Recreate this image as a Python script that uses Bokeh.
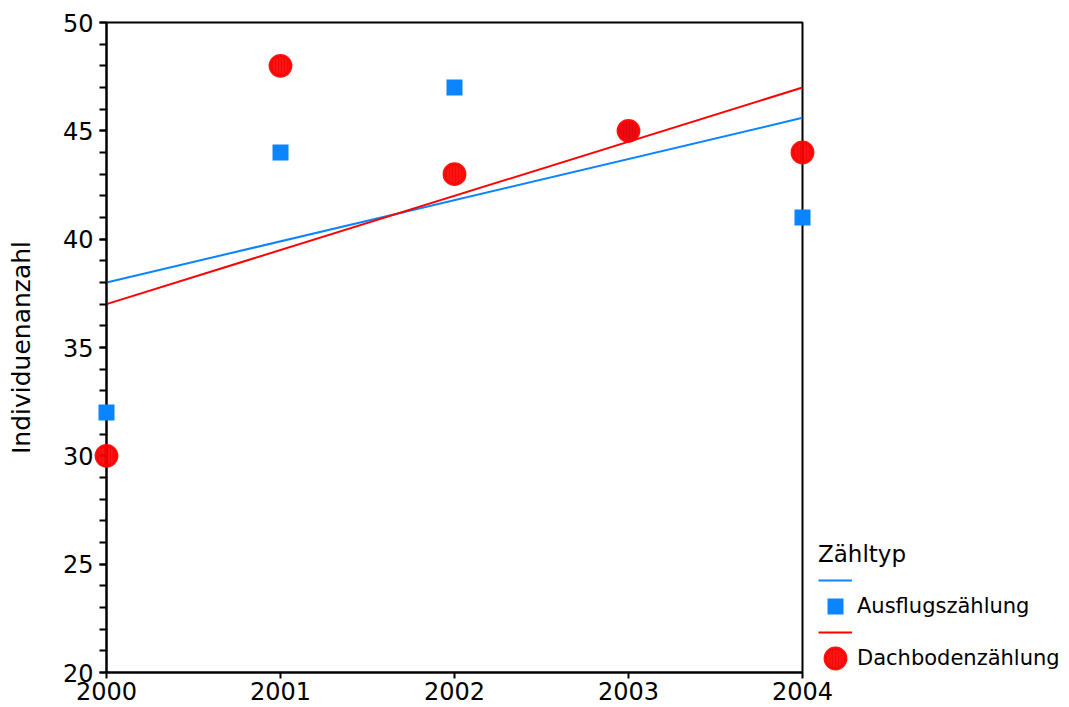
import numpy as np
from bokeh.plotting import figure
from bokeh.models import (Range1d, FixedTicker, SingleIntervalTicker, Legend, LegendItem,
                          ColumnDataSource)
from bokeh.embed import file_html
from bokeh.resources import INLINE

# ---- data ----
years = [2000, 2001, 2002, 2003, 2004]
ausflug = [32, 44, 47, 45, 41]
dachboden = [30, 48, 43, 45, 44]
x_ticks = [2000, 2001, 2002, 2003, 2004]
y_ticks = [20, 25, 30, 35, 40, 45, 50]
series_names = ["Ausflugszählung", "Dachbodenzählung"]
legend_title = "Zähltyp"
y_label = "Individuenanzahl"

BLUE = "#0A84FF"
RED = "#FF0000"
FONT = "DejaVu Sans"

p = figure(frame_width=696, frame_height=650,
           output_backend="svg", toolbar_location=None,
           x_range=Range1d(years[0], years[-1]), y_range=Range1d(y_ticks[0], y_ticks[-1]),
           min_border_left=106, min_border_top=22, min_border_right=265, min_border_bottom=35)
p.grid.visible = False
p.background_fill_color = "white"
p.border_fill_color = "white"
p.outline_line_color = "black"
p.outline_line_width = 2

# axes
xa = p.xaxis[0]
xa.ticker = FixedTicker(ticks=x_ticks)
xa.major_label_overrides = {t: str(t) for t in x_ticks}
xa.major_tick_in = 0
xa.major_tick_out = 6
xa.minor_tick_out = 0
xa.minor_tick_in = 0
xa.axis_line_width = 2
xa.major_tick_line_width = 2
xa.major_label_text_font = FONT
xa.major_label_text_font_size = "24px"
xa.major_label_text_color = "black"
xa.major_label_standoff = 3

ya = p.yaxis[0]
ya.ticker = SingleIntervalTicker(interval=5, num_minor_ticks=5)
ya.major_tick_in = 0
ya.major_tick_out = 7
ya.minor_tick_in = 0
ya.minor_tick_out = 7
ya.axis_line_width = 2
ya.major_tick_line_width = 2
ya.minor_tick_line_width = 2
ya.major_label_text_font = FONT
ya.major_label_text_font_size = "24px"
ya.major_label_text_color = "black"
ya.major_label_standoff = 6
ya.axis_label = y_label
ya.axis_label_text_font = FONT
ya.axis_label_text_font_size = "25px"
ya.axis_label_text_font_style = "normal"
ya.axis_label_text_color = "black"
ya.axis_label_standoff = 24

# regression lines
xs = np.array(years, dtype=float)
fit_a = np.polyfit(xs, ausflug, 1)
fit_d = np.polyfit(xs, dachboden, 1)
line_src = ColumnDataSource(dict(x=[years[0], years[-1]],
                                 ya=list(np.polyval(fit_a, [years[0], years[-1]])),
                                 yd=list(np.polyval(fit_d, [years[0], years[-1]]))))
la = p.line("x", "ya", source=line_src, line_color=BLUE, line_width=2)
ld = p.line("x", "yd", source=line_src, line_color=RED, line_width=2)

pts = ColumnDataSource(dict(x=years, a=ausflug, d=dachboden))
sa = p.scatter("x", "a", source=pts, marker="square", size=10.4, fill_color=BLUE,
               line_color=BLUE, line_width=5.6, line_join="miter", level="annotation")
sd = p.ellipse("x", "d", source=pts, width=20.8, height=20.8, width_units="screen",
               height_units="screen", fill_color=RED, fill_alpha=0.93,
               line_color=RED, line_width=3, line_alpha=0.93,
               hatch_pattern="vertical_line", hatch_color="#C80000", hatch_alpha=0.35,
               hatch_scale=3, hatch_weight=1, level="annotation")

legend = Legend(
    items=[LegendItem(label=" ", renderers=[la]),
           LegendItem(label=series_names[0], renderers=[sa]),
           LegendItem(label=" ", renderers=[ld]),
           LegendItem(label=series_names[1], renderers=[sd])],
    location=(16, 1), glyph_width=34, glyph_height=26, label_standoff=5,
    label_height=20, padding=5, margin=0, spacing=0,
    border_line_color=None, background_fill_alpha=0,
    label_text_font=FONT, label_text_font_size="21px", label_text_color="black",
    title=legend_title, title_text_font=FONT, title_text_font_size="23px",
    title_text_font_style="normal", title_text_color="black", title_standoff=0)
p.add_layout(legend, "right")

open("out.html", "w").write(file_html(p, INLINE))
